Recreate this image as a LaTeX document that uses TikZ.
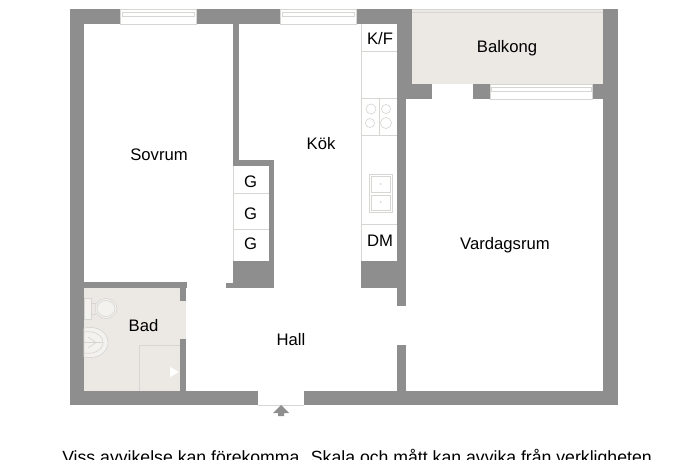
\documentclass[tikz,border=0pt]{standalone}
\usepackage{fontspec}
\setmainfont{Liberation Sans}
\definecolor{wallgray}{HTML}{8E8E8E}
\definecolor{floorbeige}{HTML}{ECE9E5}
\definecolor{fixline}{HTML}{D6D6D3}
\definecolor{fixfill}{HTML}{F4F2EF}
\tikzset{
 wall/.style={fill=wallgray, draw=none},
 floorzone/.style={fill=floorbeige, draw=none},
 fixture/.style={draw=fixline, line width=.5pt},
 roomlabel/.style={font=\fontsize{12.5}{14}\selectfont, text=black, inner sep=0, anchor=base},
}
\begin{document}
\begin{tikzpicture}[x=.75pt,y=-.75pt]
\useasboundingbox (0,0) rectangle (690,460);
% floors
\fill[floorzone] (412,9) rectangle (603,84);
\fill[floorzone] (84,288) rectangle (186,391);
% outer walls
\fill[wall] (70,9) rectangle (84,405);
\fill[wall] (603,9) rectangle (618,405);
\fill[wall] (70,9) rectangle (120,24);
\fill[wall] (196,9) rectangle (280,24);
\fill[wall] (356,9) rectangle (412,24);
\fill[wall] (70,391) rectangle (258,405);
\fill[wall] (304,391) rectangle (618,405);
% balcony side
\fill[wall] (397,24) rectangle (412,99);
\fill[wall] (397,84) rectangle (432,99);
\fill[wall] (473,84) rectangle (490,99);
\fill[wall] (592,84) rectangle (603,99);
\fill[wall] (397,99) rectangle (406,306);
\fill[wall] (397,345) rectangle (406,391);
% inner walls
\fill[wall] (233,24) rectangle (239,166);
\fill[wall] (233,160) rectangle (274,166);
\fill[wall] (269,160) rectangle (274,288);
\fill[wall] (233,261) rectangle (274,288);
\fill[wall] (226,283) rectangle (233,288);
\fill[wall] (361,261) rectangle (397,288);
% bathroom walls
\fill[wall] (84,282) rectangle (187,288);
\fill[wall] (180,288) rectangle (186,301);
\fill[wall] (180,339) rectangle (186,391);
% windows
\foreach \x/\w in {120/196,280/356} {
 \draw[fixture] (\x,9) rectangle (\w,24);
 \draw[fixture] (\x+2,12.5) rectangle (\w-2,16);
}
\draw[fixture] (490,84) rectangle (592,99);
\draw[fixture] (491,87.5) rectangle (591,91.5);
\draw[fixture] (412,12) -- (603,12);
\draw[fixture] (412,9) -- (603,9);
\draw[fixture] (258,405) -- (304,405);
% kitchen counter
\draw[fixture] (361,24) -- (361,261);
\foreach \y in {51,98,135,224} {
 \draw[fixture] (361,\y) -- (397,\y);
}
\draw[fixture] (379,98) -- (379,135);
\foreach \x/\y/\r in {371/109/5,386/109/4.5,370/123/4.5,386/123/5.5} {
 \draw[fixture] (\x,\y) circle ({\r});
}
\draw[fixture] (369,174) rectangle (392,212);
\draw[fixture] (371,176) rectangle (390,192);
\draw[fixture] (371,195) rectangle (390,210);
\foreach \y in {184,202} {
 \fill[fixline] (380.5,\y) circle (1);
}
% closet
\foreach \y in {193.5,229} {
 \draw[fixture] (233,\y) -- (269,\y);
}
\draw[fixture] (233,166) -- (233,261);
% bathroom fixtures
\draw[fixture, fill=fixfill] (84,298) rectangle (91,319);
\draw[fixture] (91,303) -- (96,303) (91,314) -- (96,314);
\draw[fixture, fill=fixfill] (106,308.5) ellipse (11 and 10);
\draw[fixture] (106,308.5) ellipse (9 and 8);
\draw[fixture, fill=fixfill] (84,328) .. controls (98,325) and (108,333) .. (108,342.5) .. controls (108,352) and (98,360) .. (84,357) -- cycle;
\draw[fixture] (84,332) .. controls (95,330) and (103,336) .. (103,342.5) .. controls (103,349) and (95,355) .. (84,353);
\draw[fixture] (84,342.5) -- (103,342.5) (88,337) -- (96,342.5) -- (88,348);
\draw[fixture] (139.5,391) -- (139.5,345) -- (180,345);
\fill[white] (170,367) -- (179,372) -- (170,377) -- cycle;
% entrance arrow
\fill[wallgray] (273,413) -- (281,405) -- (289,413) -- (284,413) -- (284,416) -- (278,416) -- (278,413) -- cycle;
% labels
\node[roomlabel] (balkong) at (507,52.5) {Balkong};
\node[roomlabel] (sovrum) at (159,160.5) {Sovrum};
\node[roomlabel] (kok) at (321,149.5) {Kök};
\node[roomlabel] (bad) at (143.5,331.5) {Bad};
\node[roomlabel] (hall) at (291,345.5) {Hall};
\node[roomlabel] (vardagsrum) at (505,249) {Vardagsrum};
\node[roomlabel] (kf) at (380,45) {K/F};
\node[roomlabel] (dm) at (380,247) {DM};
\foreach \y [count=\i] in {187.5,219.5,249.5} {
 \node[roomlabel] (g\i) at (250.5,\y) {G};
}
\node[roomlabel, font=\fontsize{13.25}{15}\selectfont] (note) at (357,463.5) {Viss avvikelse kan förekomma. Skala och mått kan avvika från verkligheten};
\end{tikzpicture}
\end{document}
